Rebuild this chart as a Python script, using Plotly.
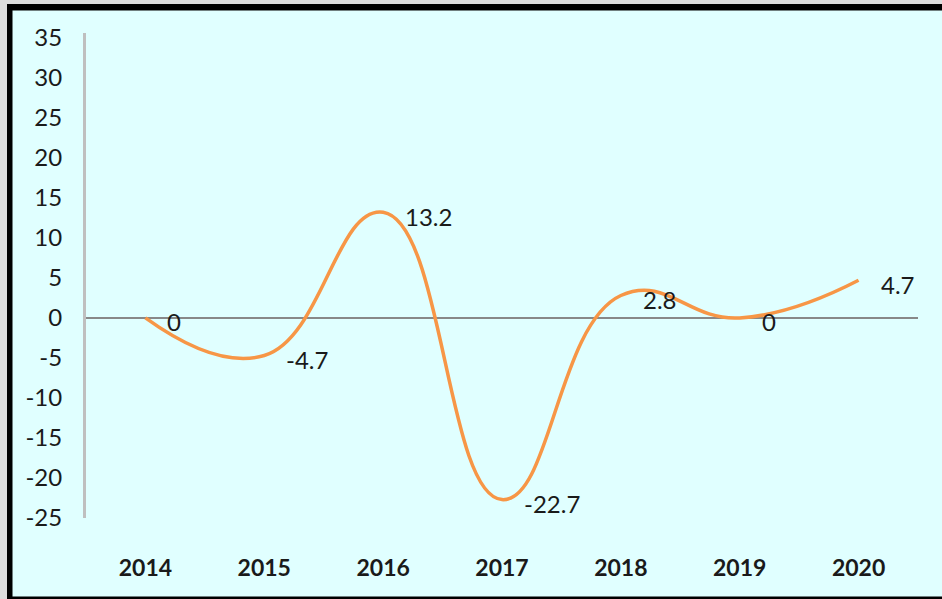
import plotly.graph_objects as go

years = ["2014", "2015", "2016", "2017", "2018", "2019", "2020"]
values = [0, -4.7, 13.2, -22.7, 2.8, 0, 4.7]
labels = ["0", "-4.7", "13.2", "-22.7", "2.8", "0", "4.7"]
y_ticks = [35, 30, 25, 20, 15, 10, 5, 0, -5, -10, -15, -20, -25]

FONT = "Lato, sans-serif"
BG = "#E0FFFF"

W, H = 942, 599
ML, MR, MT, MB = 86, 24, 33, 81
PW, PH = W - ML - MR, H - MT - MB


def px(x):
    return (x - ML) / PW


def py(y):
    return (H - MB - y) / PH


fig = go.Figure()
fig.add_trace(go.Scatter(
    x=years, y=values, mode="lines",
    line=dict(color="#F79646", width=3.5, shape="spline", smoothing=1.3),
    hoverinfo="skip", showlegend=False,
))

annotations = []
for i, (v, t) in enumerate(zip(values, labels)):
    annotations.append(dict(x=i, y=v, xref="x", yref="y", text=t, showarrow=False,
                            xanchor="left", yanchor="middle", xshift=20, yshift=-4,
                            font=dict(family=FONT, size=24, color="#1a1a1a")))

shapes = []
# light gray strips outside the border
shapes.append(dict(type="rect", xref="paper", yref="paper", x0=px(0), x1=px(W), y0=py(4), y1=py(0),
                   fillcolor="#DDDDDD", line=dict(width=0), layer="above"))
shapes.append(dict(type="rect", xref="paper", yref="paper", x0=px(0), x1=px(7), y0=py(H), y1=py(0),
                   fillcolor="#DDDDDD", line=dict(width=0), layer="above"))
# black border
shapes.append(dict(type="rect", xref="paper", yref="paper", x0=px(7), x1=px(W), y0=py(10.5), y1=py(4),
                   fillcolor="black", line=dict(width=0), layer="above"))
shapes.append(dict(type="rect", xref="paper", yref="paper", x0=px(7), x1=px(12.5), y0=py(H), y1=py(4),
                   fillcolor="black", line=dict(width=0), layer="above"))
shapes.append(dict(type="rect", xref="paper", yref="paper", x0=px(7), x1=px(W), y0=py(H), y1=py(596.5),
                   fillcolor="black", line=dict(width=0), layer="above"))

fig.update_layout(
    width=W, height=H,
    margin=dict(l=ML, r=MR, t=MT, b=MB),
    paper_bgcolor=BG, plot_bgcolor=BG,
    shapes=shapes,
    annotations=annotations,
    font=dict(family=FONT, color="#1a1a1a"),
    xaxis=dict(type="category", range=[-0.5, 6.5], showgrid=False, showline=False,
               zeroline=False, ticks="", ticklabelstandoff=34,
               tickfont=dict(family=FONT, size=23, color="#1a1a1a", weight="bold")),
    yaxis=dict(range=[-25, 35.6], tickvals=y_ticks, ticktext=[str(v) for v in y_ticks],
               showgrid=False, showline=True, linecolor="#BFBFBF", linewidth=3,
               zeroline=True, zerolinecolor="#888888", zerolinewidth=2,
               ticks="", ticklabelstandoff=16,
               tickfont=dict(family=FONT, size=24, color="#1a1a1a")),
)

fig.write_html("out.html", config={"displayModeBar": False},
               post_script="document.body.style.margin='0';")
